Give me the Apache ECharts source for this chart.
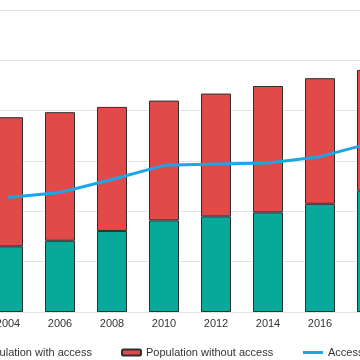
<!DOCTYPE html>
<html>
<head>
<meta charset="utf-8">
<script src="https://cdn.jsdelivr.net/npm/echarts@6/dist/echarts.min.js"></script>
<style>
html,body{margin:0;padding:0;width:360px;height:360px;overflow:hidden;background:#fff;}
#c{position:absolute;left:-100px;top:0;width:560px;height:360px;}
</style>
</head>
<body>
<div id="c"></div>
<script>
const years = ['2004','2006','2008','2010','2012','2014','2016','2018'];
const withAccess = [261, 283, 322, 364, 380, 396, 430, 482];
const withoutAccess = [513, 511, 493, 476, 488, 502, 499, 480];
const accessPct = [34.1, 35.6, 39.5, 43.7, 44.1, 44.4, 46.3, 50.4];
const names = ['Population with access', 'Population without access', 'Access to electricity (%)'];

const font = 'Liberation Sans, Arial, sans-serif';
const chart = echarts.init(document.getElementById('c'), null, {renderer: 'canvas'});
const legendBase = {
  orient: 'horizontal', top: 342, itemWidth: 20, itemHeight: 6,
  textStyle: {fontFamily: font, fontSize: 11, color: '#333'}
};
chart.setOption({
  animation: false,
  grid: {left: 82, right: 62, top: 10, bottom: 48},
  legend: [
    Object.assign({}, legendBase, {left: 49, data: [names[0]]}),
    Object.assign({}, legendBase, {left: 216, itemWidth: 19, data: [names[1]]}),
    Object.assign({}, legendBase, {left: 398, itemWidth: 20, itemHeight: 3, data: [{name: names[2], icon: 'rect'}]})
  ],
  xAxis: {
    type: 'category', data: years,
    axisTick: {show: false}, axisLine: {show: false},
    axisLabel: {fontFamily: font, fontSize: 11, color: '#333', margin: 6}
  },
  yAxis: [
    {type: 'value', min: 0, max: 1200, interval: 200, axisLabel: {show: false},
     axisLine: {show: false}, axisTick: {show: false},
     splitLine: {lineStyle: {color: '#e3e3e3', width: 1}}},
    {type: 'value', min: 0, max: 90, interval: 15, axisLabel: {show: false},
     axisLine: {show: false}, axisTick: {show: false}, splitLine: {show: false}}
  ],
  series: [
    {name: names[0], type: 'bar', stack: 'pop', barWidth: 30, data: withAccess,
     itemStyle: {color: '#07a99b', borderColor: '#2e2e2e', borderWidth: 1}},
    {name: names[1], type: 'bar', stack: 'pop', barWidth: 30, data: withoutAccess,
     itemStyle: {color: '#e24a4a', borderColor: '#2e2e2e', borderWidth: 1}},
    {name: names[2], type: 'line', yAxisIndex: 1, data: accessPct, symbol: 'none', showSymbol: false,
     z: 5, lineStyle: {color: '#1ba7e6', width: 3}, itemStyle: {color: '#1ba7e6'}}
  ]
});
</script>
</body>
</html>
